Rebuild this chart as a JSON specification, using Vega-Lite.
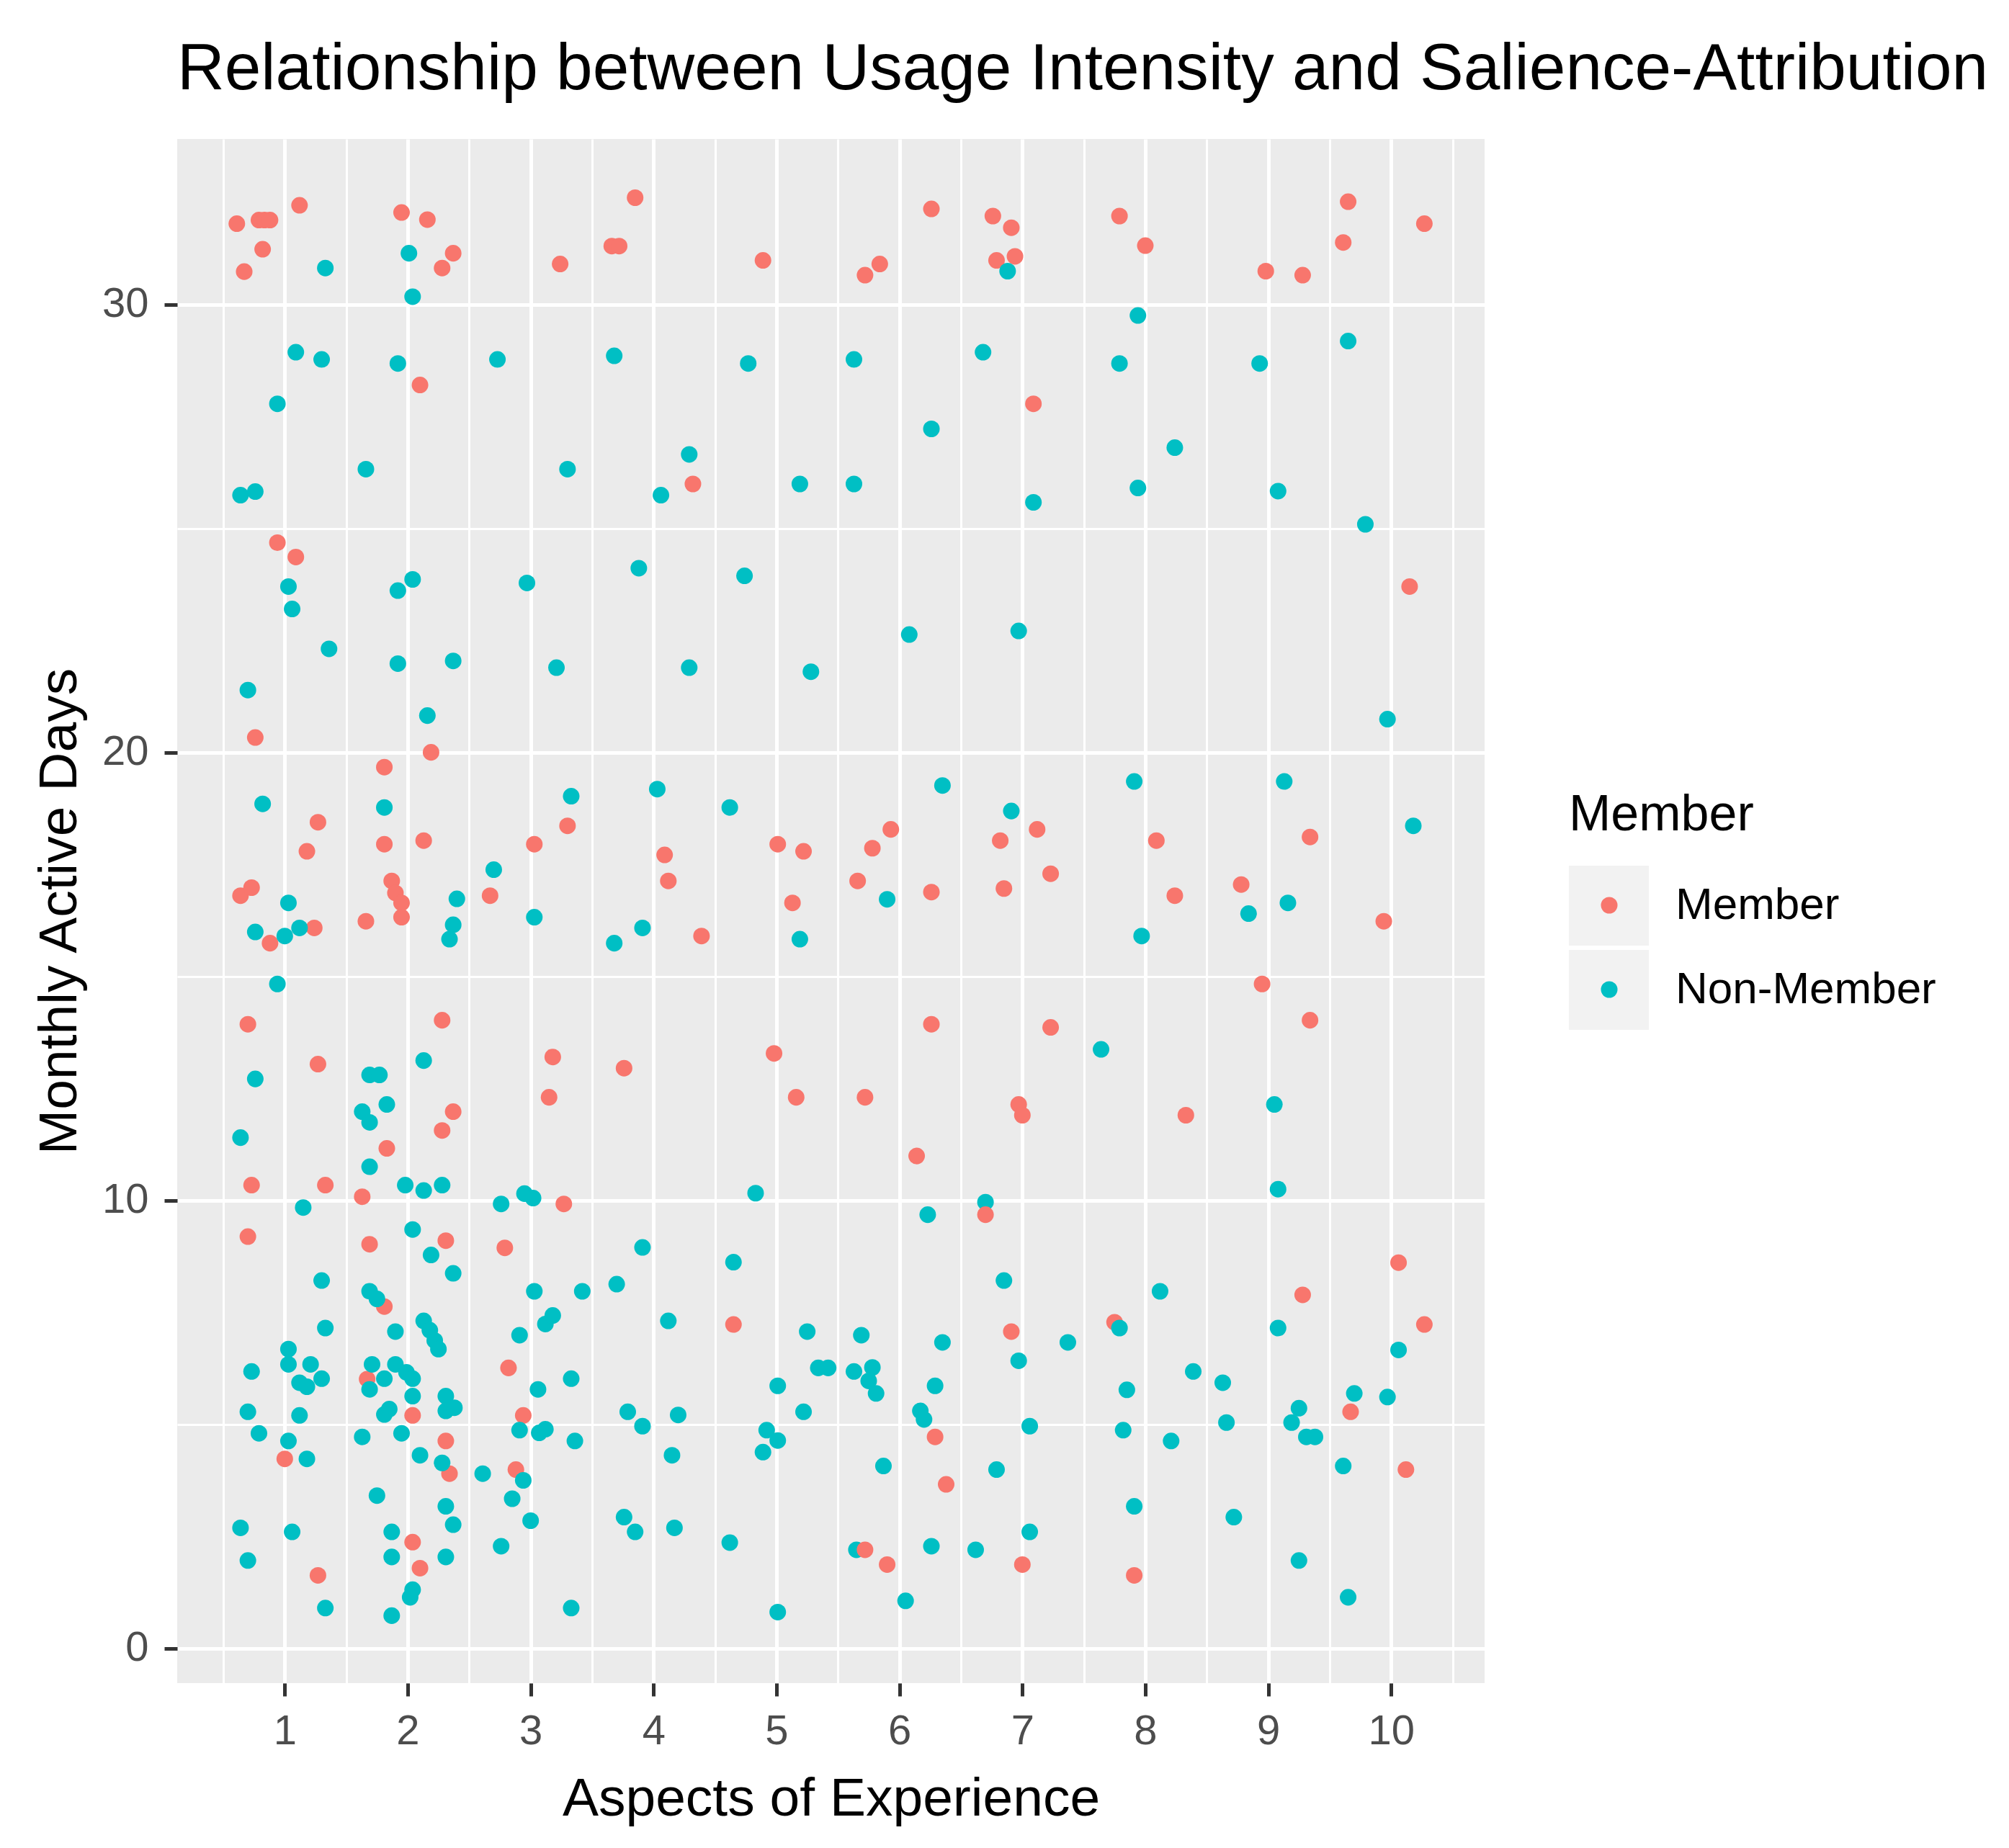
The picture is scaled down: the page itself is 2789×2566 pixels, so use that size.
{
  "$schema": "https://vega.github.io/schema/vega-lite/v6.json",
  "width": 1815,
  "height": 2144,
  "autosize": {"type": "none"},
  "padding": {"left": 246, "top": 193, "right": 728, "bottom": 229},
  "background": "white",
  "config": {
    "font": "Liberation Sans",
    "view": {"fill": "#EBEBEB", "stroke": null}
  },
  "title": {
    "text": "Relationship between Usage Intensity and Salience-Attribution",
    "anchor": "start",
    "frame": "group",
    "fontSize": 91,
    "fontWeight": "normal",
    "color": "black",
    "offset": 50,
    "limit": 3000
  },
  "data": {
    "values": [
      {"Aspects": 0.61, "Days": 31.80, "Member": "Member"},
      {"Aspects": 0.79, "Days": 31.88, "Member": "Member"},
      {"Aspects": 0.835, "Days": 31.88, "Member": "Member"},
      {"Aspects": 0.88, "Days": 31.88, "Member": "Member"},
      {"Aspects": 1.12, "Days": 32.21, "Member": "Member"},
      {"Aspects": 0.82, "Days": 31.23, "Member": "Member"},
      {"Aspects": 0.67, "Days": 30.73, "Member": "Member"},
      {"Aspects": 1.95, "Days": 32.05, "Member": "Member"},
      {"Aspects": 2.16, "Days": 31.89, "Member": "Member"},
      {"Aspects": 2.37, "Days": 31.14, "Member": "Member"},
      {"Aspects": 2.28, "Days": 30.81, "Member": "Member"},
      {"Aspects": 3.24, "Days": 30.90, "Member": "Member"},
      {"Aspects": 3.66, "Days": 31.30, "Member": "Member"},
      {"Aspects": 3.72, "Days": 31.30, "Member": "Member"},
      {"Aspects": 2.10, "Days": 28.20, "Member": "Member"},
      {"Aspects": 0.94, "Days": 24.68, "Member": "Member"},
      {"Aspects": 1.09, "Days": 24.36, "Member": "Member"},
      {"Aspects": 3.85, "Days": 32.38, "Member": "Member"},
      {"Aspects": 4.89, "Days": 30.98, "Member": "Member"},
      {"Aspects": 5.72, "Days": 30.65, "Member": "Member"},
      {"Aspects": 5.84, "Days": 30.90, "Member": "Member"},
      {"Aspects": 6.26, "Days": 32.13, "Member": "Member"},
      {"Aspects": 6.76, "Days": 31.97, "Member": "Member"},
      {"Aspects": 6.91, "Days": 31.71, "Member": "Member"},
      {"Aspects": 6.79, "Days": 30.98, "Member": "Member"},
      {"Aspects": 6.94, "Days": 31.07, "Member": "Member"},
      {"Aspects": 7.09, "Days": 27.78, "Member": "Member"},
      {"Aspects": 4.32, "Days": 25.99, "Member": "Member"},
      {"Aspects": 7.79, "Days": 31.97, "Member": "Member"},
      {"Aspects": 8.00, "Days": 31.31, "Member": "Member"},
      {"Aspects": 8.98, "Days": 30.74, "Member": "Member"},
      {"Aspects": 9.28, "Days": 30.65, "Member": "Member"},
      {"Aspects": 9.65, "Days": 32.29, "Member": "Member"},
      {"Aspects": 9.61, "Days": 31.38, "Member": "Member"},
      {"Aspects": 10.27, "Days": 31.80, "Member": "Member"},
      {"Aspects": 10.15, "Days": 23.70, "Member": "Member"},
      {"Aspects": 0.76, "Days": 20.33, "Member": "Member"},
      {"Aspects": 2.19, "Days": 20.00, "Member": "Member"},
      {"Aspects": 1.81, "Days": 19.67, "Member": "Member"},
      {"Aspects": 1.27, "Days": 18.44, "Member": "Member"},
      {"Aspects": 1.18, "Days": 17.79, "Member": "Member"},
      {"Aspects": 1.81, "Days": 17.95, "Member": "Member"},
      {"Aspects": 2.13, "Days": 18.03, "Member": "Member"},
      {"Aspects": 3.30, "Days": 18.36, "Member": "Member"},
      {"Aspects": 3.03, "Days": 17.95, "Member": "Member"},
      {"Aspects": 2.67, "Days": 16.80, "Member": "Member"},
      {"Aspects": 0.64, "Days": 16.80, "Member": "Member"},
      {"Aspects": 0.73, "Days": 16.98, "Member": "Member"},
      {"Aspects": 0.88, "Days": 15.74, "Member": "Member"},
      {"Aspects": 1.24, "Days": 16.08, "Member": "Member"},
      {"Aspects": 1.66, "Days": 16.23, "Member": "Member"},
      {"Aspects": 1.87, "Days": 17.13, "Member": "Member"},
      {"Aspects": 1.90, "Days": 16.86, "Member": "Member"},
      {"Aspects": 1.95, "Days": 16.64, "Member": "Member"},
      {"Aspects": 1.95, "Days": 16.32, "Member": "Member"},
      {"Aspects": 0.70, "Days": 13.93, "Member": "Member"},
      {"Aspects": 2.28, "Days": 14.02, "Member": "Member"},
      {"Aspects": 1.27, "Days": 13.04, "Member": "Member"},
      {"Aspects": 3.18, "Days": 13.20, "Member": "Member"},
      {"Aspects": 3.15, "Days": 12.30, "Member": "Member"},
      {"Aspects": 2.37, "Days": 11.98, "Member": "Member"},
      {"Aspects": 2.28, "Days": 11.56, "Member": "Member"},
      {"Aspects": 1.83, "Days": 11.16, "Member": "Member"},
      {"Aspects": 4.09, "Days": 17.71, "Member": "Member"},
      {"Aspects": 4.12, "Days": 17.13, "Member": "Member"},
      {"Aspects": 5.01, "Days": 17.95, "Member": "Member"},
      {"Aspects": 5.22, "Days": 17.79, "Member": "Member"},
      {"Aspects": 5.13, "Days": 16.64, "Member": "Member"},
      {"Aspects": 4.39, "Days": 15.90, "Member": "Member"},
      {"Aspects": 5.66, "Days": 17.13, "Member": "Member"},
      {"Aspects": 5.78, "Days": 17.86, "Member": "Member"},
      {"Aspects": 5.93, "Days": 18.28, "Member": "Member"},
      {"Aspects": 6.26, "Days": 16.88, "Member": "Member"},
      {"Aspects": 6.82, "Days": 18.03, "Member": "Member"},
      {"Aspects": 6.85, "Days": 16.96, "Member": "Member"},
      {"Aspects": 7.12, "Days": 18.28, "Member": "Member"},
      {"Aspects": 7.23, "Days": 17.29, "Member": "Member"},
      {"Aspects": 3.76, "Days": 12.95, "Member": "Member"},
      {"Aspects": 4.98, "Days": 13.28, "Member": "Member"},
      {"Aspects": 5.16, "Days": 12.30, "Member": "Member"},
      {"Aspects": 5.72, "Days": 12.30, "Member": "Member"},
      {"Aspects": 6.26, "Days": 13.93, "Member": "Member"},
      {"Aspects": 7.23, "Days": 13.86, "Member": "Member"},
      {"Aspects": 6.97, "Days": 12.14, "Member": "Member"},
      {"Aspects": 7.00, "Days": 11.90, "Member": "Member"},
      {"Aspects": 6.14, "Days": 10.99, "Member": "Member"},
      {"Aspects": 8.09, "Days": 18.03, "Member": "Member"},
      {"Aspects": 9.34, "Days": 18.11, "Member": "Member"},
      {"Aspects": 8.24, "Days": 16.80, "Member": "Member"},
      {"Aspects": 8.78, "Days": 17.05, "Member": "Member"},
      {"Aspects": 9.94, "Days": 16.23, "Member": "Member"},
      {"Aspects": 8.95, "Days": 14.83, "Member": "Member"},
      {"Aspects": 9.34, "Days": 14.02, "Member": "Member"},
      {"Aspects": 8.33, "Days": 11.90, "Member": "Member"},
      {"Aspects": 0.73, "Days": 10.34, "Member": "Member"},
      {"Aspects": 1.33, "Days": 10.34, "Member": "Member"},
      {"Aspects": 1.63, "Days": 10.08, "Member": "Member"},
      {"Aspects": 3.27, "Days": 9.92, "Member": "Member"},
      {"Aspects": 0.70, "Days": 9.19, "Member": "Member"},
      {"Aspects": 1.69, "Days": 9.02, "Member": "Member"},
      {"Aspects": 2.31, "Days": 9.10, "Member": "Member"},
      {"Aspects": 2.79, "Days": 8.94, "Member": "Member"},
      {"Aspects": 1.81, "Days": 7.63, "Member": "Member"},
      {"Aspects": 1.67, "Days": 6.01, "Member": "Member"},
      {"Aspects": 2.04, "Days": 5.20, "Member": "Member"},
      {"Aspects": 2.82, "Days": 6.26, "Member": "Member"},
      {"Aspects": 2.94, "Days": 5.20, "Member": "Member"},
      {"Aspects": 1.00, "Days": 4.23, "Member": "Member"},
      {"Aspects": 2.31, "Days": 4.63, "Member": "Member"},
      {"Aspects": 2.34, "Days": 3.90, "Member": "Member"},
      {"Aspects": 2.88, "Days": 3.99, "Member": "Member"},
      {"Aspects": 2.04, "Days": 2.37, "Member": "Member"},
      {"Aspects": 2.10, "Days": 1.79, "Member": "Member"},
      {"Aspects": 1.27, "Days": 1.63, "Member": "Member"},
      {"Aspects": 4.65, "Days": 7.23, "Member": "Member"},
      {"Aspects": 6.91, "Days": 7.07, "Member": "Member"},
      {"Aspects": 6.29, "Days": 4.72, "Member": "Member"},
      {"Aspects": 6.38, "Days": 3.66, "Member": "Member"},
      {"Aspects": 5.90, "Days": 1.87, "Member": "Member"},
      {"Aspects": 7.00, "Days": 1.87, "Member": "Member"},
      {"Aspects": 10.06, "Days": 8.61, "Member": "Member"},
      {"Aspects": 9.28, "Days": 7.89, "Member": "Member"},
      {"Aspects": 10.27, "Days": 7.23, "Member": "Member"},
      {"Aspects": 7.75, "Days": 7.28, "Member": "Member"},
      {"Aspects": 9.67, "Days": 5.28, "Member": "Member"},
      {"Aspects": 10.12, "Days": 3.99, "Member": "Member"},
      {"Aspects": 7.91, "Days": 1.63, "Member": "Member"},
      {"Aspects": 1.33, "Days": 30.81, "Member": "Non-Member"},
      {"Aspects": 2.01, "Days": 31.14, "Member": "Non-Member"},
      {"Aspects": 2.04, "Days": 30.17, "Member": "Non-Member"},
      {"Aspects": 1.09, "Days": 28.93, "Member": "Non-Member"},
      {"Aspects": 1.30, "Days": 28.77, "Member": "Non-Member"},
      {"Aspects": 1.92, "Days": 28.68, "Member": "Non-Member"},
      {"Aspects": 2.73, "Days": 28.77, "Member": "Non-Member"},
      {"Aspects": 3.68, "Days": 28.85, "Member": "Non-Member"},
      {"Aspects": 0.94, "Days": 27.78, "Member": "Non-Member"},
      {"Aspects": 1.66, "Days": 26.32, "Member": "Non-Member"},
      {"Aspects": 3.30, "Days": 26.32, "Member": "Non-Member"},
      {"Aspects": 0.64, "Days": 25.74, "Member": "Non-Member"},
      {"Aspects": 0.76, "Days": 25.82, "Member": "Non-Member"},
      {"Aspects": 1.03, "Days": 23.70, "Member": "Non-Member"},
      {"Aspects": 1.06, "Days": 23.20, "Member": "Non-Member"},
      {"Aspects": 1.92, "Days": 23.61, "Member": "Non-Member"},
      {"Aspects": 2.04, "Days": 23.86, "Member": "Non-Member"},
      {"Aspects": 2.97, "Days": 23.78, "Member": "Non-Member"},
      {"Aspects": 1.36, "Days": 22.31, "Member": "Non-Member"},
      {"Aspects": 6.88, "Days": 30.74, "Member": "Non-Member"},
      {"Aspects": 4.77, "Days": 28.68, "Member": "Non-Member"},
      {"Aspects": 5.63, "Days": 28.77, "Member": "Non-Member"},
      {"Aspects": 6.68, "Days": 28.93, "Member": "Non-Member"},
      {"Aspects": 4.29, "Days": 26.65, "Member": "Non-Member"},
      {"Aspects": 4.06, "Days": 25.74, "Member": "Non-Member"},
      {"Aspects": 5.19, "Days": 25.99, "Member": "Non-Member"},
      {"Aspects": 5.63, "Days": 25.99, "Member": "Non-Member"},
      {"Aspects": 6.26, "Days": 27.22, "Member": "Non-Member"},
      {"Aspects": 7.09, "Days": 25.58, "Member": "Non-Member"},
      {"Aspects": 3.88, "Days": 24.11, "Member": "Non-Member"},
      {"Aspects": 4.74, "Days": 23.94, "Member": "Non-Member"},
      {"Aspects": 6.08, "Days": 22.63, "Member": "Non-Member"},
      {"Aspects": 6.97, "Days": 22.71, "Member": "Non-Member"},
      {"Aspects": 7.94, "Days": 29.75, "Member": "Non-Member"},
      {"Aspects": 7.79, "Days": 28.68, "Member": "Non-Member"},
      {"Aspects": 8.93, "Days": 28.68, "Member": "Non-Member"},
      {"Aspects": 9.65, "Days": 29.18, "Member": "Non-Member"},
      {"Aspects": 8.24, "Days": 26.80, "Member": "Non-Member"},
      {"Aspects": 7.94, "Days": 25.90, "Member": "Non-Member"},
      {"Aspects": 9.08, "Days": 25.83, "Member": "Non-Member"},
      {"Aspects": 9.79, "Days": 25.09, "Member": "Non-Member"},
      {"Aspects": 1.92, "Days": 21.98, "Member": "Non-Member"},
      {"Aspects": 2.37, "Days": 22.04, "Member": "Non-Member"},
      {"Aspects": 3.21, "Days": 21.89, "Member": "Non-Member"},
      {"Aspects": 0.70, "Days": 21.39, "Member": "Non-Member"},
      {"Aspects": 2.16, "Days": 20.82, "Member": "Non-Member"},
      {"Aspects": 0.82, "Days": 18.85, "Member": "Non-Member"},
      {"Aspects": 1.81, "Days": 18.77, "Member": "Non-Member"},
      {"Aspects": 3.33, "Days": 19.02, "Member": "Non-Member"},
      {"Aspects": 2.70, "Days": 17.38, "Member": "Non-Member"},
      {"Aspects": 1.03, "Days": 16.64, "Member": "Non-Member"},
      {"Aspects": 0.76, "Days": 15.99, "Member": "Non-Member"},
      {"Aspects": 1.00, "Days": 15.90, "Member": "Non-Member"},
      {"Aspects": 1.12, "Days": 16.08, "Member": "Non-Member"},
      {"Aspects": 2.40, "Days": 16.73, "Member": "Non-Member"},
      {"Aspects": 2.37, "Days": 16.15, "Member": "Non-Member"},
      {"Aspects": 2.34, "Days": 15.83, "Member": "Non-Member"},
      {"Aspects": 3.03, "Days": 16.32, "Member": "Non-Member"},
      {"Aspects": 3.68, "Days": 15.74, "Member": "Non-Member"},
      {"Aspects": 0.94, "Days": 14.83, "Member": "Non-Member"},
      {"Aspects": 0.76, "Days": 12.71, "Member": "Non-Member"},
      {"Aspects": 2.13, "Days": 13.12, "Member": "Non-Member"},
      {"Aspects": 1.69, "Days": 12.80, "Member": "Non-Member"},
      {"Aspects": 1.77, "Days": 12.80, "Member": "Non-Member"},
      {"Aspects": 1.83, "Days": 12.14, "Member": "Non-Member"},
      {"Aspects": 1.63, "Days": 11.98, "Member": "Non-Member"},
      {"Aspects": 1.69, "Days": 11.74, "Member": "Non-Member"},
      {"Aspects": 0.64, "Days": 11.40, "Member": "Non-Member"},
      {"Aspects": 1.69, "Days": 10.75, "Member": "Non-Member"},
      {"Aspects": 4.29, "Days": 21.89, "Member": "Non-Member"},
      {"Aspects": 5.28, "Days": 21.80, "Member": "Non-Member"},
      {"Aspects": 4.03, "Days": 19.18, "Member": "Non-Member"},
      {"Aspects": 4.62, "Days": 18.77, "Member": "Non-Member"},
      {"Aspects": 3.91, "Days": 16.08, "Member": "Non-Member"},
      {"Aspects": 5.19, "Days": 15.83, "Member": "Non-Member"},
      {"Aspects": 5.90, "Days": 16.72, "Member": "Non-Member"},
      {"Aspects": 6.35, "Days": 19.26, "Member": "Non-Member"},
      {"Aspects": 6.91, "Days": 18.69, "Member": "Non-Member"},
      {"Aspects": 9.97, "Days": 20.74, "Member": "Non-Member"},
      {"Aspects": 7.91, "Days": 19.35, "Member": "Non-Member"},
      {"Aspects": 9.13, "Days": 19.35, "Member": "Non-Member"},
      {"Aspects": 10.18, "Days": 18.36, "Member": "Non-Member"},
      {"Aspects": 8.84, "Days": 16.40, "Member": "Non-Member"},
      {"Aspects": 9.16, "Days": 16.64, "Member": "Non-Member"},
      {"Aspects": 7.97, "Days": 15.90, "Member": "Non-Member"},
      {"Aspects": 7.64, "Days": 13.37, "Member": "Non-Member"},
      {"Aspects": 9.05, "Days": 12.14, "Member": "Non-Member"},
      {"Aspects": 1.98, "Days": 10.34, "Member": "Non-Member"},
      {"Aspects": 2.13, "Days": 10.22, "Member": "Non-Member"},
      {"Aspects": 2.28, "Days": 10.34, "Member": "Non-Member"},
      {"Aspects": 2.76, "Days": 9.92, "Member": "Non-Member"},
      {"Aspects": 2.95, "Days": 10.15, "Member": "Non-Member"},
      {"Aspects": 3.02, "Days": 10.05, "Member": "Non-Member"},
      {"Aspects": 1.15, "Days": 9.84, "Member": "Non-Member"},
      {"Aspects": 2.04, "Days": 9.35, "Member": "Non-Member"},
      {"Aspects": 2.19, "Days": 8.78, "Member": "Non-Member"},
      {"Aspects": 2.37, "Days": 8.37, "Member": "Non-Member"},
      {"Aspects": 1.30, "Days": 8.21, "Member": "Non-Member"},
      {"Aspects": 1.69, "Days": 7.97, "Member": "Non-Member"},
      {"Aspects": 1.75, "Days": 7.80, "Member": "Non-Member"},
      {"Aspects": 3.03, "Days": 7.97, "Member": "Non-Member"},
      {"Aspects": 3.42, "Days": 7.97, "Member": "Non-Member"},
      {"Aspects": 1.33, "Days": 7.15, "Member": "Non-Member"},
      {"Aspects": 1.90, "Days": 7.07, "Member": "Non-Member"},
      {"Aspects": 2.13, "Days": 7.31, "Member": "Non-Member"},
      {"Aspects": 2.18, "Days": 7.10, "Member": "Non-Member"},
      {"Aspects": 2.22, "Days": 6.87, "Member": "Non-Member"},
      {"Aspects": 2.25, "Days": 6.68, "Member": "Non-Member"},
      {"Aspects": 1.03, "Days": 6.68, "Member": "Non-Member"},
      {"Aspects": 1.03, "Days": 6.34, "Member": "Non-Member"},
      {"Aspects": 1.21, "Days": 6.34, "Member": "Non-Member"},
      {"Aspects": 1.12, "Days": 5.93, "Member": "Non-Member"},
      {"Aspects": 1.18, "Days": 5.84, "Member": "Non-Member"},
      {"Aspects": 1.30, "Days": 6.02, "Member": "Non-Member"},
      {"Aspects": 0.73, "Days": 6.18, "Member": "Non-Member"},
      {"Aspects": 1.71, "Days": 6.34, "Member": "Non-Member"},
      {"Aspects": 1.90, "Days": 6.34, "Member": "Non-Member"},
      {"Aspects": 1.99, "Days": 6.16, "Member": "Non-Member"},
      {"Aspects": 2.04, "Days": 6.02, "Member": "Non-Member"},
      {"Aspects": 1.81, "Days": 6.02, "Member": "Non-Member"},
      {"Aspects": 1.69, "Days": 5.78, "Member": "Non-Member"},
      {"Aspects": 2.04, "Days": 5.63, "Member": "Non-Member"},
      {"Aspects": 2.31, "Days": 5.63, "Member": "Non-Member"},
      {"Aspects": 2.31, "Days": 5.30, "Member": "Non-Member"},
      {"Aspects": 2.38, "Days": 5.37, "Member": "Non-Member"},
      {"Aspects": 0.70, "Days": 5.28, "Member": "Non-Member"},
      {"Aspects": 1.12, "Days": 5.20, "Member": "Non-Member"},
      {"Aspects": 1.81, "Days": 5.22, "Member": "Non-Member"},
      {"Aspects": 1.85, "Days": 5.34, "Member": "Non-Member"},
      {"Aspects": 3.33, "Days": 6.02, "Member": "Non-Member"},
      {"Aspects": 3.06, "Days": 5.78, "Member": "Non-Member"},
      {"Aspects": 2.91, "Days": 6.99, "Member": "Non-Member"},
      {"Aspects": 3.12, "Days": 7.24, "Member": "Non-Member"},
      {"Aspects": 3.18, "Days": 7.43, "Member": "Non-Member"},
      {"Aspects": 2.91, "Days": 4.87, "Member": "Non-Member"},
      {"Aspects": 3.07, "Days": 4.81, "Member": "Non-Member"},
      {"Aspects": 3.12, "Days": 4.89, "Member": "Non-Member"},
      {"Aspects": 3.36, "Days": 4.63, "Member": "Non-Member"},
      {"Aspects": 0.79, "Days": 4.80, "Member": "Non-Member"},
      {"Aspects": 1.03, "Days": 4.63, "Member": "Non-Member"},
      {"Aspects": 1.18, "Days": 4.23, "Member": "Non-Member"},
      {"Aspects": 1.63, "Days": 4.72, "Member": "Non-Member"},
      {"Aspects": 1.95, "Days": 4.80, "Member": "Non-Member"},
      {"Aspects": 2.10, "Days": 4.31, "Member": "Non-Member"},
      {"Aspects": 2.28, "Days": 4.14, "Member": "Non-Member"},
      {"Aspects": 2.61, "Days": 3.90, "Member": "Non-Member"},
      {"Aspects": 2.94, "Days": 3.75, "Member": "Non-Member"},
      {"Aspects": 2.85, "Days": 3.34, "Member": "Non-Member"},
      {"Aspects": 1.75, "Days": 3.41, "Member": "Non-Member"},
      {"Aspects": 2.31, "Days": 3.17, "Member": "Non-Member"},
      {"Aspects": 2.37, "Days": 2.76, "Member": "Non-Member"},
      {"Aspects": 3.00, "Days": 2.85, "Member": "Non-Member"},
      {"Aspects": 0.64, "Days": 2.69, "Member": "Non-Member"},
      {"Aspects": 1.06, "Days": 2.60, "Member": "Non-Member"},
      {"Aspects": 1.87, "Days": 2.60, "Member": "Non-Member"},
      {"Aspects": 2.76, "Days": 2.28, "Member": "Non-Member"},
      {"Aspects": 0.70, "Days": 1.96, "Member": "Non-Member"},
      {"Aspects": 1.87, "Days": 2.04, "Member": "Non-Member"},
      {"Aspects": 2.31, "Days": 2.04, "Member": "Non-Member"},
      {"Aspects": 2.04, "Days": 1.31, "Member": "Non-Member"},
      {"Aspects": 2.02, "Days": 1.14, "Member": "Non-Member"},
      {"Aspects": 1.33, "Days": 0.90, "Member": "Non-Member"},
      {"Aspects": 1.87, "Days": 0.73, "Member": "Non-Member"},
      {"Aspects": 3.33, "Days": 0.90, "Member": "Non-Member"},
      {"Aspects": 4.83, "Days": 10.16, "Member": "Non-Member"},
      {"Aspects": 6.23, "Days": 9.68, "Member": "Non-Member"},
      {"Aspects": 6.70, "Days": 9.96, "Member": "Non-Member"},
      {"Aspects": 3.91, "Days": 8.95, "Member": "Non-Member"},
      {"Aspects": 3.70, "Days": 8.13, "Member": "Non-Member"},
      {"Aspects": 4.65, "Days": 8.62, "Member": "Non-Member"},
      {"Aspects": 6.85, "Days": 8.21, "Member": "Non-Member"},
      {"Aspects": 4.12, "Days": 7.31, "Member": "Non-Member"},
      {"Aspects": 5.25, "Days": 7.07, "Member": "Non-Member"},
      {"Aspects": 5.69, "Days": 6.99, "Member": "Non-Member"},
      {"Aspects": 6.35, "Days": 6.83, "Member": "Non-Member"},
      {"Aspects": 6.97, "Days": 6.42, "Member": "Non-Member"},
      {"Aspects": 5.34, "Days": 6.26, "Member": "Non-Member"},
      {"Aspects": 5.42, "Days": 6.26, "Member": "Non-Member"},
      {"Aspects": 5.63, "Days": 6.18, "Member": "Non-Member"},
      {"Aspects": 5.78, "Days": 6.27, "Member": "Non-Member"},
      {"Aspects": 5.75, "Days": 5.97, "Member": "Non-Member"},
      {"Aspects": 5.81, "Days": 5.69, "Member": "Non-Member"},
      {"Aspects": 5.01, "Days": 5.86, "Member": "Non-Member"},
      {"Aspects": 6.29, "Days": 5.86, "Member": "Non-Member"},
      {"Aspects": 3.79, "Days": 5.28, "Member": "Non-Member"},
      {"Aspects": 3.91, "Days": 4.96, "Member": "Non-Member"},
      {"Aspects": 4.20, "Days": 5.21, "Member": "Non-Member"},
      {"Aspects": 5.22, "Days": 5.28, "Member": "Non-Member"},
      {"Aspects": 6.17, "Days": 5.30, "Member": "Non-Member"},
      {"Aspects": 6.20, "Days": 5.11, "Member": "Non-Member"},
      {"Aspects": 7.06, "Days": 4.96, "Member": "Non-Member"},
      {"Aspects": 4.15, "Days": 4.31, "Member": "Non-Member"},
      {"Aspects": 4.92, "Days": 4.87, "Member": "Non-Member"},
      {"Aspects": 5.01, "Days": 4.64, "Member": "Non-Member"},
      {"Aspects": 4.89, "Days": 4.38, "Member": "Non-Member"},
      {"Aspects": 5.87, "Days": 4.07, "Member": "Non-Member"},
      {"Aspects": 6.79, "Days": 3.99, "Member": "Non-Member"},
      {"Aspects": 3.76, "Days": 2.93, "Member": "Non-Member"},
      {"Aspects": 3.85, "Days": 2.60, "Member": "Non-Member"},
      {"Aspects": 4.17, "Days": 2.69, "Member": "Non-Member"},
      {"Aspects": 4.62, "Days": 2.36, "Member": "Non-Member"},
      {"Aspects": 5.65, "Days": 2.20, "Member": "Non-Member"},
      {"Aspects": 6.26, "Days": 2.28, "Member": "Non-Member"},
      {"Aspects": 6.62, "Days": 2.20, "Member": "Non-Member"},
      {"Aspects": 7.06, "Days": 2.60, "Member": "Non-Member"},
      {"Aspects": 6.05, "Days": 1.06, "Member": "Non-Member"},
      {"Aspects": 5.01, "Days": 0.81, "Member": "Non-Member"},
      {"Aspects": 9.08, "Days": 10.25, "Member": "Non-Member"},
      {"Aspects": 8.12, "Days": 7.97, "Member": "Non-Member"},
      {"Aspects": 7.79, "Days": 7.15, "Member": "Non-Member"},
      {"Aspects": 7.37, "Days": 6.83, "Member": "Non-Member"},
      {"Aspects": 9.08, "Days": 7.15, "Member": "Non-Member"},
      {"Aspects": 10.06, "Days": 6.66, "Member": "Non-Member"},
      {"Aspects": 8.39, "Days": 6.18, "Member": "Non-Member"},
      {"Aspects": 8.63, "Days": 5.93, "Member": "Non-Member"},
      {"Aspects": 7.85, "Days": 5.77, "Member": "Non-Member"},
      {"Aspects": 9.70, "Days": 5.69, "Member": "Non-Member"},
      {"Aspects": 9.97, "Days": 5.61, "Member": "Non-Member"},
      {"Aspects": 9.25, "Days": 5.36, "Member": "Non-Member"},
      {"Aspects": 9.19, "Days": 5.04, "Member": "Non-Member"},
      {"Aspects": 9.31, "Days": 4.72, "Member": "Non-Member"},
      {"Aspects": 9.38, "Days": 4.72, "Member": "Non-Member"},
      {"Aspects": 8.66, "Days": 5.04, "Member": "Non-Member"},
      {"Aspects": 7.82, "Days": 4.87, "Member": "Non-Member"},
      {"Aspects": 8.21, "Days": 4.63, "Member": "Non-Member"},
      {"Aspects": 9.61, "Days": 4.07, "Member": "Non-Member"},
      {"Aspects": 7.91, "Days": 3.17, "Member": "Non-Member"},
      {"Aspects": 8.72, "Days": 2.93, "Member": "Non-Member"},
      {"Aspects": 9.25, "Days": 1.96, "Member": "Non-Member"},
      {"Aspects": 9.65, "Days": 1.14, "Member": "Non-Member"},
      {"Aspects": 6.70, "Days": 9.68, "Member": "Member"},
      {"Aspects": 5.72, "Days": 2.20, "Member": "Member"}
    ]
  },
  "encoding": {
    "x": {
      "field": "Aspects",
      "type": "quantitative",
      "scale": {"domain": [0.125, 10.76], "nice": false, "zero": false},
      "axis": {
        "title": "Aspects of Experience",
        "values": [0.5, 1, 1.5, 2, 2.5, 3, 3.5, 4, 4.5, 5, 5.5, 6, 6.5, 7, 7.5, 8, 8.5, 9, 9.5, 10, 10.5],
        "labelExpr": "datum.value % 1 === 0 ? toString(datum.value) : ''",
        "domain": false,
        "gridColor": "white",
        "gridOpacity": 1,
        "gridWidth": {"condition": {"test": "datum.value % 1 !== 0", "value": 3}, "value": 5},
        "tickOpacity": {"condition": {"test": "datum.value % 1 !== 0", "value": 0}, "value": 1},
        "tickColor": "#333333",
        "tickWidth": 5,
        "tickSize": 18,
        "labelFontSize": 58,
        "labelColor": "#4D4D4D",
        "labelPadding": 20,
        "labelFlush": false,
        "labelOverlap": false,
        "labelBound": false,
        "titleFontSize": 75,
        "titleFontWeight": "normal",
        "titleColor": "black",
        "titlePadding": 28
      }
    },
    "y": {
      "field": "Days",
      "type": "quantitative",
      "scale": {"domain": [-0.775, 33.69], "nice": false, "zero": false},
      "axis": {
        "title": "Monthly Active Days",
        "values": [0, 5, 10, 15, 20, 25, 30],
        "labelExpr": "datum.value % 10 === 0 ? toString(datum.value) : ''",
        "domain": false,
        "gridColor": "white",
        "gridOpacity": 1,
        "gridWidth": {"condition": {"test": "datum.value % 10 !== 0", "value": 3}, "value": 5},
        "tickOpacity": {"condition": {"test": "datum.value % 10 !== 0", "value": 0}, "value": 1},
        "tickColor": "#333333",
        "tickWidth": 5,
        "tickSize": 18,
        "labelFontSize": 58,
        "labelColor": "#4D4D4D",
        "labelPadding": 22,
        "labelFlush": false,
        "labelOverlap": false,
        "labelBound": false,
        "titleFontSize": 75,
        "titleFontWeight": "normal",
        "titleColor": "black",
        "titlePadding": 20
      }
    }
  },
  "layer": [
    {
      "mark": {"type": "square", "opacity": 0, "size": 10},
      "encoding": {
        "color": {
          "field": "Member",
          "type": "nominal",
          "scale": {"domain": ["Non-Member", "Member"], "range": ["#F2F2F2", "#F2F2F2"]},
          "legend": {
            "title": "Member",
            "orient": "none",
            "legendX": 1932,
            "legendY": 905,
            "padding": 0,
            "symbolType": "square",
            "symbolSize": 12321,
            "symbolStrokeWidth": 0,
            "symbolOpacity": 1,
            "symbolFillColor": "#F2F2F2",
            "labelExpr": "''",
            "labelFontSize": 10,
            "rowPadding": 6,
            "titleFontSize": 70,
            "titleFontWeight": "normal",
            "titleColor": "black",
            "titlePadding": 34,
            "titleLimit": 2000
          }
        }
      }
    },
    {
      "mark": {"type": "circle", "size": 530, "opacity": 1},
      "encoding": {
        "fill": {
          "field": "Member",
          "type": "nominal",
          "scale": {"domain": ["Member", "Non-Member"], "range": ["#F8766D", "#00BFC4"]},
          "legend": {
            "title": null,
            "orient": "none",
            "legendX": 1957,
            "legendY": 1033,
            "padding": 0,
            "symbolType": "circle",
            "symbolSize": 530,
            "symbolStrokeWidth": 0,
            "symbolOpacity": 1,
            "labelFontSize": 62,
            "labelColor": "black",
            "labelOffset": 61,
            "labelLimit": 2000,
            "rowPadding": 55
          }
        }
      }
    }
  ]
}
